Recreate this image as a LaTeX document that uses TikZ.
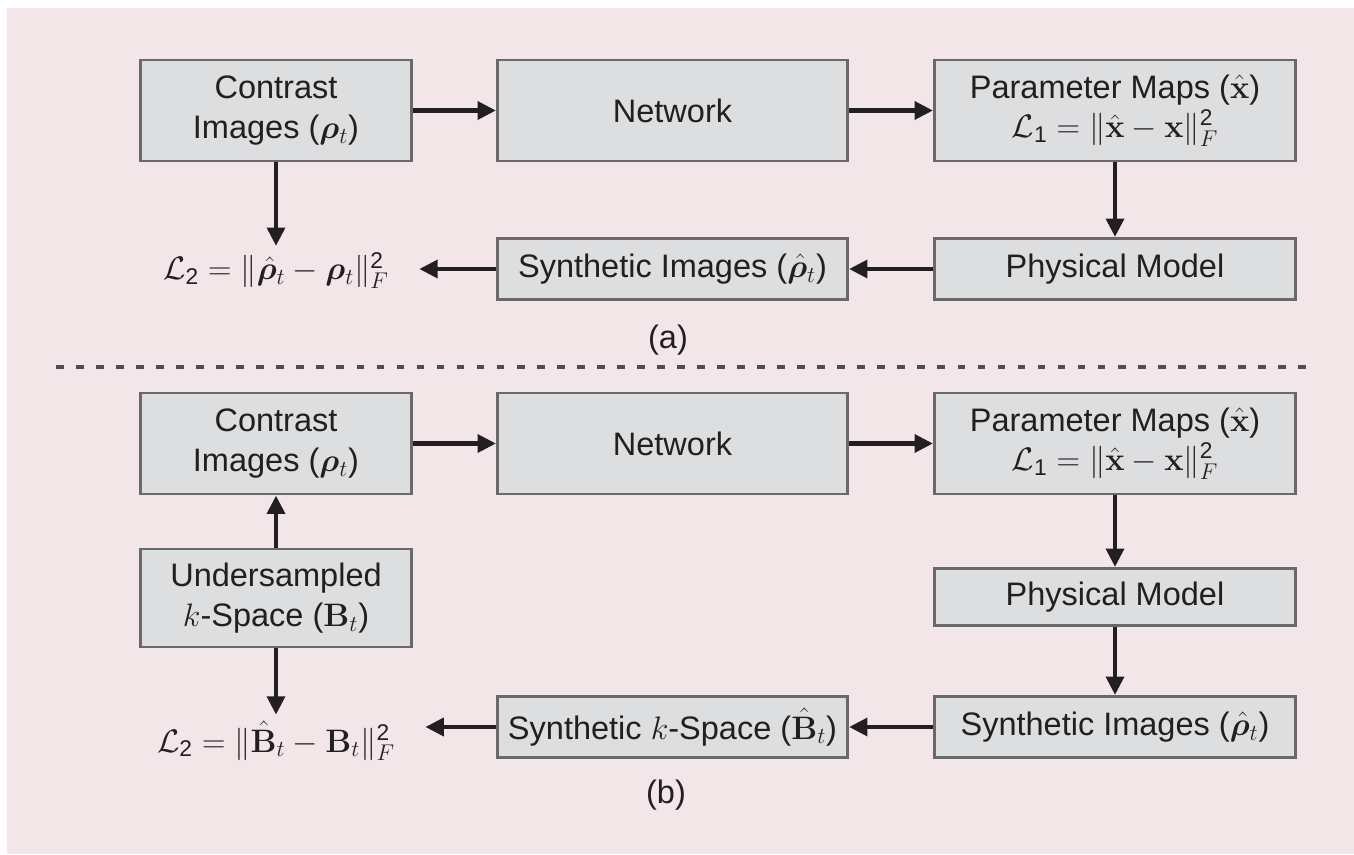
\RequirePackage{fix-cm}
\documentclass[tikz,border=0pt]{standalone}
\usepackage{amsmath}
\usepackage{bm}
\usepackage[no-math]{fontspec}
\setmainfont{Liberation Sans}
\usetikzlibrary{arrows.meta, positioning}
\definecolor{bgpink}{RGB}{243,230,233}
\definecolor{boxgray}{RGB}{220,222,224}
\definecolor{edgegray}{RGB}{105,105,105}
\definecolor{dashgray}{RGB}{78,78,78}
\definecolor{inkblack}{RGB}{35,31,32}

\tikzset{
  block/.style={draw=edgegray, fill=boxgray, line width=1.7pt, align=center, inner sep=2pt, minimum height=1.22cm},
  twoline/.style={minimum height=2.02cm},
  colone/.style={minimum width=5.42cm},
  coltwo/.style={minimum width=7.0cm},
  colthree/.style={minimum width=7.22cm},
  loss/.style={inner xsep=0.6cm, inner ysep=0.12cm, anchor=base},
  flow/.style={-{Triangle[length=10.5pt,width=10pt]}, line width=2.6pt, draw=inkblack},
}

\begin{document}
\begin{tikzpicture}[font=\fontsize{18.5}{22.5}\selectfont, text=inkblack]
    \useasboundingbox (0,0) rectangle (27.08,17.08);
    % Background
    \fill[bgpink] (0.14,0) rectangle (27.08,16.92);

    % (a) training on images
    \node[block, colone, twoline] (contrastA) at (5.52,14.87) {Contrast\\Images ($\bm{\rho}_t$)};
    \node[block, coltwo, twoline] (networkA) at (13.45,14.87) {Network};
    \node[block, colthree, twoline] (paramA) at (22.3,14.87)
        {Parameter Maps ($\hat{\mathbf{x}}$)\\$\mathcal{L}_{\text{1}} = \|\hat{\mathbf{x}} - \mathbf{x}\|_F^{\text{2}}$};
    \node[block, colthree] (physA) at (22.3,11.70) {Physical Model};
    \node[block, coltwo] (synthA) at (13.45,11.70) {Synthetic Images ($\hat{\bm{\rho}}_t$)};
    \node[loss] (lossA) at (5.52,11.48) {$\mathcal{L}_{\text{2}} = \|\hat{\bm{\rho}}_t - \bm{\rho}_t\|_F^{\text{2}}$};
    \node (capA) at (13.36,10.28) {(a)};

    \draw[flow] (contrastA) -- (networkA);
    \draw[flow] (networkA) -- (paramA);
    \draw[flow] (paramA) -- (physA);
    \draw[flow] (physA) -- (synthA);
    \draw[flow] (synthA.west) -- (synthA.west -| lossA.east);
    \draw[flow] (contrastA) -- (lossA);

    % Separator
    \coordinate (cutL) at (1.12,9.74);
    \coordinate (cutR) at (26.26,9.74);
    \draw[dashgray, line width=1.9pt, dash pattern=on 4.4pt off 7pt] (cutL) -- (cutR);

    % (b) training on k-space
    \node[block, colone, twoline] (contrastB) at (5.52,8.21) {Contrast\\Images ($\bm{\rho}_t$)};
    \node[block, coltwo, twoline] (networkB) at (13.45,8.21) {Network};
    \node[block, colthree, twoline] (paramB) at (22.3,8.21)
        {Parameter Maps ($\hat{\mathbf{x}}$)\\$\mathcal{L}_{\text{1}} = \|\hat{\mathbf{x}} - \mathbf{x}\|_F^{\text{2}}$};
    \node[block, colone, minimum height=1.96cm] (underB) at (5.52,5.12) {Undersampled\\$k$-Space ($\mathbf{B}_t$)};
    \node[block, colthree, minimum height=1.14cm] (physB) at (22.3,5.14) {Physical Model};
    \node[block, colthree] (synthB) at (22.3,2.54) {Synthetic Images ($\hat{\bm{\rho}}_t$)};
    \node[block, coltwo] (kspaceB) at (13.45,2.54) {Synthetic $k$-Space ($\hat{\mathbf{B}}_t$)};
    \node[loss] (lossB) at (5.52,2.04) {$\mathcal{L}_{\text{2}} = \|\hat{\mathbf{B}}_t - \mathbf{B}_t\|_F^{\text{2}}$};
    \node (capB) at (13.32,1.18) {(b)};

    \draw[flow] (contrastB) -- (networkB);
    \draw[flow] (networkB) -- (paramB);
    \draw[flow] (paramB) -- (physB);
    \draw[flow] (physB) -- (synthB);
    \draw[flow] (synthB) -- (kspaceB);
    \draw[flow] (kspaceB.west) -- (kspaceB.west -| lossB.east);
    \draw[flow] (underB) -- (contrastB);
    \draw[flow] (underB) -- (lossB);
\end{tikzpicture}
\end{document}
